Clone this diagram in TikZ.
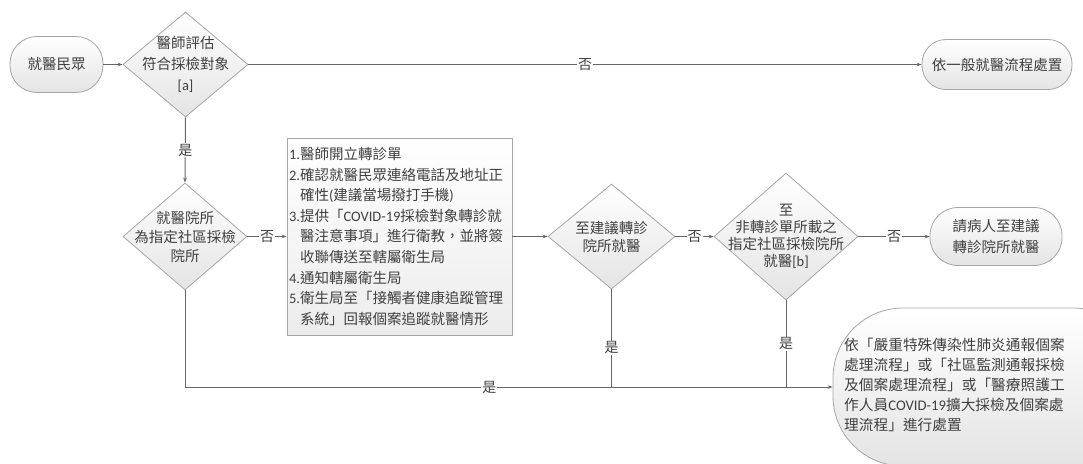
\documentclass[tikz,border=0pt]{standalone}
\usepackage{fontspec}
\setmainfont{Noto Sans CJK TC}
\newfontfamily\lat{Carlito}
\usetikzlibrary{shapes.geometric,arrows.meta}
\definecolor{ln}{HTML}{666666}
\definecolor{bd}{HTML}{A6A6A6}
\definecolor{tx}{HTML}{404040}
\definecolor{fb}{HTML}{E4E4E4}
\definecolor{fbx}{HTML}{ECECEC}
\begin{document}
\begin{tikzpicture}[x=1pt,y=-1pt,
  every node/.style={text=tx},
  term/.style={draw=bd, line width=0.8pt, top color=white, bottom color=fb, rectangle, inner sep=0pt, align=center, font=\fontsize{14.5}{21}\selectfont},
  dia/.style={draw=bd, line width=0.8pt, top color=white, bottom color=fb, diamond, inner sep=0pt},
  dtext/.style={align=center, inner sep=0pt, font=\fontsize{14.5}{#1}\selectfont},
  stepbox/.style={draw=bd, line width=0.8pt, top color=white, bottom color=fbx, rectangle, inner xsep=2pt, inner ysep=0pt, align=left, font=\fontsize{14.5}{20.6}\selectfont},
  flow/.style={draw=ln, line width=1pt, -{Stealth[length=5pt,width=3.6pt]}},
  plain/.style={draw=ln, line width=1pt},
  lab/.style={fill=white, inner sep=1pt, font=\fontsize{14}{14}\selectfont}
]
\useasboundingbox (0,0) rectangle (1083,463);
\fill[white] (0,0) rectangle (1083,463);

% nodes
\node[term, minimum width=93, minimum height=56, rounded corners=27] (s) at (56.5,64.5) {就醫民眾};
\node[dia, minimum width=125, minimum height=105] (d1) at (185.5,64.5) {};
\node[dtext=21] (d1t) at (d1.center) {醫師評估\\符合採檢對象\\{\lat [a]}};
\node[term, minimum width=150, minimum height=50, rounded corners=24] (e1) at (997,64.5) {依一般就醫流程處置};

\node[dia, minimum width=124, minimum height=107] (d2) at (185,236.5) {};
\node[dtext=19] (d2t) at (d2.center) {就醫院所\\為指定社區採檢\\院所};

\node[stepbox, minimum width=225, minimum height=197, text width=221] (bx) at (399.5,236.5) {%
{\lat 1.}醫師開立轉診單\\
{\lat 2.}確認就醫民眾連絡電話及地址正\\
\hphantom{\lat 2.}確性{\lat (}建議當場撥打手機{\lat )}\\
{\lat 3.}提供「{\lat COVID-19}採檢對象轉診就\\
\hphantom{\lat 3.}醫注意事項」進行衛教，並將簽\\
\hphantom{\lat 3.}收聯傳送至轄屬衛生局\\
{\lat 4.}通知轄屬衛生局\\
{\lat 5.}衛生局至「接觸者健康追蹤管理\\
\hphantom{\lat 5.}系統」回報個案追蹤就醫情形};

\node[dia, minimum width=127, minimum height=105] (d3) at (611.5,236.5) {};
\node[dtext=18] (d3t) at (d3.center) {至建議轉診\\院所就醫};

\node[dia, minimum width=144, minimum height=127] (d4) at (786,236.5) {};
\node[dtext=17] (d4t) at (d4.center) {至\\非轉診單所載之\\指定社區採檢院所\\就醫{\lat [b]}};

\node[term, minimum width=132, minimum height=58, rounded corners=28] (e2) at (996,236.5) {請病人至建議\\轉診院所就醫};

\begin{scope}
\clip (0,0) rectangle (1083,463);
\node[term, minimum width=310, minimum height=158, rounded corners=70] (e3) at (988,387) {};
\end{scope}
\node[anchor=west, align=left, inner sep=0pt, font=\fontsize{14.7}{20}\selectfont] (e3t) at (844,385) {%
依「嚴重特殊傳染性肺炎通報個案\\
處理流程」或「社區監測通報採檢\\
及個案處理流程」或「醫療照護工\\
作人員{\lat COVID-19}擴大採檢及個案處\\
理流程」進行處置};

% connectors
\draw[flow] (s.east) -- (d1.west);
\draw[flow] (d1.east) -- node[lab]{否} (e1.west);
\draw[flow] (d1.south) -- node[lab]{是} (d2.north);
\draw[flow] (d2.east) -- node[lab]{否} (bx.west);
\draw[flow] (bx.east) -- (d3.west);
\draw[flow] (d3.east) -- node[lab]{否} (d4.west);
\draw[flow] (d4.east) -- node[lab]{否} (e2.west);
\draw[flow] (d2.south) |- node[lab, pos=0.735]{是} (e3.west);
\draw[plain] (d3.south) -- node[lab, pos=0.6]{是} (d3.south |- e3.west);
\draw[plain] (d4.south) -- node[lab, pos=0.5]{是} (d4.south |- e3.west);
\end{tikzpicture}
\end{document}
